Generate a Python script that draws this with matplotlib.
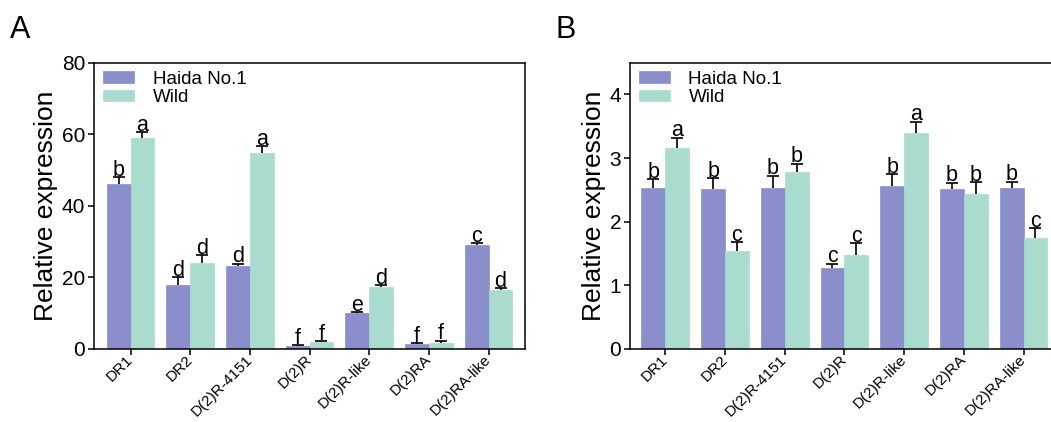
import numpy as np
import matplotlib
matplotlib.use("Agg")
import matplotlib.pyplot as plt

plt.rcParams['font.family'] = ['Liberation Sans', 'DejaVu Sans']

genes = ["DR1", "DR2", "D(2)R-4151", "D(2)R", "D(2)R-like", "D(2)RA", "D(2)RA-like"]
series = ["Haida No.1", "Wild"]

# panel A
a_haida = [46.1, 18.0, 23.2, 0.8, 10.1, 1.5, 29.0]
a_haida_err = [1.8, 2.1, 0.6, 0.2, 0.2, 0.2, 0.5]
a_wild = [59.0, 24.0, 54.7, 2.0, 17.3, 1.8, 16.5]
a_wild_err = [1.6, 2.2, 1.9, 0.2, 0.5, 0.5, 0.4]
a_haida_lab = ["b", "d", "d", "f", "e", "f", "c"]
a_wild_lab = ["a", "d", "a", "f", "d", "f", "d"]

# panel B
b_haida = [2.53, 2.52, 2.53, 1.27, 2.56, 2.52, 2.53]
b_haida_err = [0.14, 0.16, 0.19, 0.07, 0.19, 0.09, 0.10]
b_wild = [3.15, 1.54, 2.78, 1.48, 3.40, 2.43, 1.74]
b_wild_err = [0.17, 0.14, 0.13, 0.18, 0.17, 0.19, 0.16]
b_haida_lab = ["b", "b", "b", "c", "b", "b", "b"]
b_wild_lab = ["a", "c", "b", "c", "a", "b", "c"]

c_haida = "#8a8ecb"
c_wild = "#a9dccf"

W, H = 1051, 422
fig = plt.figure(figsize=(W / 100, H / 100), dpi=100)


def panel(rect, h, he, w, we, hl, wl, ymax, yticks, xlim, right_spine):
    ax = fig.add_axes(rect)
    x = np.arange(len(genes))
    bw = 0.4
    for xs, vals, errs, labs, col, name in [
            (x - bw / 2, h, he, hl, c_haida, series[0]),
            (x + bw / 2, w, we, wl, c_wild, series[1])]:
        vals = np.array(vals)
        errs = np.array(errs)
        ax.bar(xs, vals, width=bw, color=col, edgecolor=col, linewidth=0.5,
               label=name, zorder=2)
        ax.vlines(xs, vals, vals + errs, color="k", lw=1.2, zorder=3)
        ax.plot(xs, vals + errs, ls="none", marker="_", ms=8.5, mew=1.2,
                color="k", zorder=3)
        for xi, top, lab in zip(xs, vals + errs, labs):
            ax.annotate(lab, (xi, top), xytext=(0, 1.0),
                        textcoords="offset points", ha="center",
                        va="baseline", fontsize=15.5)
    ax.set_xlim(*xlim)
    ax.set_ylim(0, ymax)
    ax.set_yticks(yticks)
    ax.set_xticks(x)
    ax.set_xticklabels(genes, rotation=45, ha="right", va="center",
                       rotation_mode="anchor", fontsize=11)
    ax.tick_params(axis="y", labelsize=15, length=4, width=1.1, pad=2)
    ax.tick_params(axis="x", length=4, width=1.1, pad=2)
    for s in ax.spines.values():
        s.set_linewidth(1.1)
    ax.spines["right"].set_visible(right_spine)
    ax.set_ylabel("Relative expression", fontsize=19)
    ax.legend(loc="upper left", bbox_to_anchor=(0.022, 0.972), frameon=False,
              fontsize=13.5, handlelength=1.65, handleheight=0.58,
              labelspacing=0.08, handletextpad=1.0, borderpad=0,
              borderaxespad=0)
    return ax


bottom = 1 - 349 / H
height = (349 - 62.5) / H

axA = panel([93.5 / W, bottom, (525 - 93.5) / W, height],
            a_haida, a_haida_err, a_wild, a_wild_err, a_haida_lab, a_wild_lab,
            80, [0, 20, 40, 60, 80], (-0.62, 6.61), True)
axA.yaxis.set_label_coords(-0.082, 0.5)

axB = panel([629.5 / W, bottom, (1051 - 629.5) / W, height],
            b_haida, b_haida_err, b_wild, b_wild_err, b_haida_lab, b_wild_lab,
            4.5, [0, 1, 2, 3, 4], (-0.6, 6.46), False)
axB.yaxis.set_label_coords(-0.055, 0.5)

fig.text(10 / W, 1 - 38 / H, "A", fontsize=22)
fig.text(556 / W, 1 - 38 / H, "B", fontsize=22)

fig.savefig("out.png", dpi=100)
